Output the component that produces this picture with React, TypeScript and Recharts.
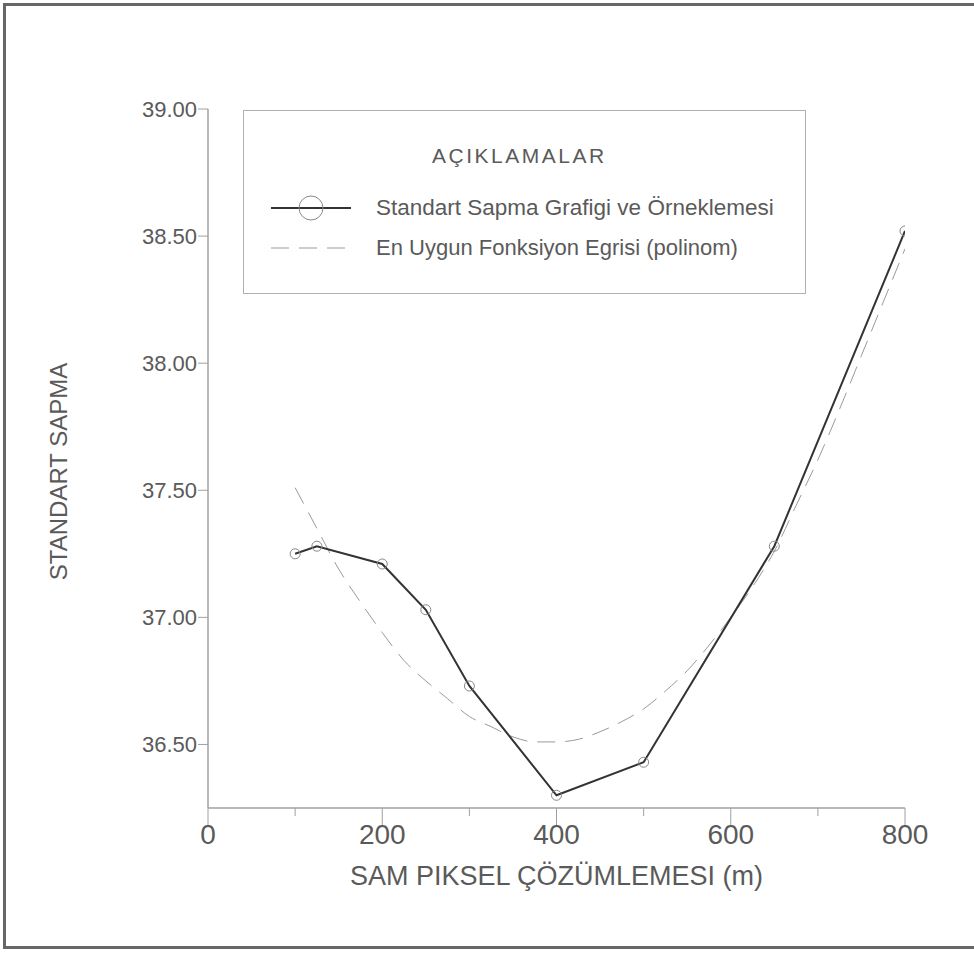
import { LineChart, Line, XAxis, YAxis, Legend, Label } from 'recharts'

// örnekleme noktaları (piksel çözümlemesi, standart sapma)
const sampleRes = [100, 125, 200, 250, 300, 400, 500, 650, 800]
const sampleStd = [37.25, 37.28, 37.21, 37.03, 36.73, 36.3, 36.43, 37.28, 38.52]

// polinom eğrisinden okunan değerler
const fitRes = [100, 125, 150, 175, 200, 225, 250, 275, 300, 325, 350, 375, 400, 425, 450, 475, 500, 525, 550, 575, 600, 625, 650, 675, 700, 725, 750, 775, 800]
const fitStd = [37.51, 37.35, 37.19, 37.06, 36.94, 36.83, 36.75, 36.68, 36.61, 36.57, 36.53, 36.51, 36.51, 36.52, 36.55, 36.59, 36.64, 36.71, 36.79, 36.89, 37.0, 37.12, 37.26, 37.44, 37.62, 37.82, 38.03, 38.24, 38.45]

const xTicks = [0, 100, 200, 300, 400, 500, 600, 700, 800]
const yTicks = [36.5, 37, 37.5, 38, 38.5, 39]

const sampleData = sampleRes.map((x, i) => ({ x, y: sampleStd[i] }))
const fitData = fitRes.map((x, i) => ({ x, y: fitStd[i] }))

const narrow = "'Liberation Sans Narrow', 'Liberation Sans', Arial, sans-serif"
const sans = "'Liberation Sans', Arial, sans-serif"
const textGray = '#5a5a5a'
const axisGray = '#a0a0a0'

function XTick(props: any) {
  const { x, y, payload } = props
  const major = payload.value % 200 === 0
  return (
    <g>
      <line x1={x} x2={x} y1={y} y2={y + (major ? 18 : 8)} stroke={axisGray} strokeWidth={1} />
      {major && (
        <text x={x} y={y + 36} textAnchor="middle" fontSize={28} fontFamily={narrow} fill={textGray}>
          {payload.value}
        </text>
      )}
    </g>
  )
}

function YTitle(props: any) {
  const { viewBox } = props
  const cx = viewBox.x + 50
  const cy = viewBox.y + viewBox.height / 2 + 13
  return (
    <text
      x={cx}
      y={cy}
      transform={`rotate(-90 ${cx} ${cy})`}
      textAnchor="middle"
      dominantBaseline="central"
      fontSize={24}
      fontFamily={narrow}
      fill={textGray}
    >
      STANDART SAPMA
    </text>
  )
}

function LegendBox() {
  return (
    <div
      style={{
        width: 561,
        height: 182,
        border: '1px solid #b0b0b0',
        background: '#fff',
        fontFamily: sans,
        color: textGray,
        position: 'relative',
      }}
    >
      <div style={{ position: 'absolute', left: 188, top: 33, fontSize: 21, letterSpacing: 2.5 }}>
        AÇIKLAMALAR
      </div>
      <div style={{ position: 'absolute', left: 27, top: 82, display: 'flex', alignItems: 'center' }}>
        <svg width={80} height={30}>
          <line x1={0} x2={80} y1={15} y2={15} stroke="#333" strokeWidth={2} />
          <circle cx={40} cy={15} r={12} fill="none" stroke="#888" strokeWidth={1} />
        </svg>
        <span style={{ marginLeft: 25, fontSize: 22.5 }}>Standart Sapma Grafigi ve Örneklemesi</span>
      </div>
      <div style={{ position: 'absolute', left: 27, top: 122, display: 'flex', alignItems: 'center' }}>
        <svg width={80} height={30}>
          <line x1={0} x2={80} y1={15} y2={15} stroke="#999" strokeWidth={1} strokeDasharray="18 10" />
        </svg>
        <span style={{ marginLeft: 25, fontSize: 22 }}>En Uygun Fonksiyon Egrisi (polinom)</span>
      </div>
    </div>
  )
}

export default function App() {
  return (
    <div style={{ position: 'absolute', left: 0, top: 0, width: 974, height: 959, overflow: 'hidden', background: '#fff' }}>
      <div
        style={{
          position: 'absolute',
          left: 3,
          top: 3,
          width: 971,
          height: 946,
          borderLeft: '3px solid #666',
          borderTop: '3px solid #666',
          borderBottom: '3px solid #666',
          boxSizing: 'border-box',
        }}
      />
      <div style={{ position: 'absolute', left: 0, top: 0 }}>
        <LineChart width={974} height={959} margin={{ top: 109, right: 69, bottom: 0, left: 8 }}>
          <XAxis
            type="number"
            dataKey="x"
            domain={[0, 800]}
            ticks={xTicks}
            interval={0}
            height={151}
            tickSize={0}
            tickMargin={0}
            tickLine={false}
            tick={<XTick />}
            axisLine={{ stroke: axisGray, strokeWidth: 1.5 }}
            allowDataOverflow
          >
            <Label
              value="SAM PIKSEL ÇÖZÜMLEMESI (m)"
              position="insideTop"
              offset={58}
              style={{ fontSize: 27, fontFamily: narrow, fill: textGray }}
            />
          </XAxis>
          <YAxis
            type="number"
            dataKey="y"
            domain={[36.25, 39]}
            ticks={yTicks}
            interval={0}
            width={200}
            tickSize={10}
            tickMargin={1}
            tickFormatter={(v: number) => v.toFixed(2)}
            tick={{ fontSize: 22, fontFamily: sans, fill: textGray }}
            tickLine={{ stroke: axisGray }}
            axisLine={{ stroke: axisGray, strokeWidth: 1.5 }}
            allowDataOverflow
          >
            <Label content={<YTitle />} />
          </YAxis>
          <Legend
            verticalAlign="middle"
            layout="horizontal"
            content={<LegendBox />}
            wrapperStyle={{ position: 'absolute', left: 243, top: 110, width: 563, height: 184 }}
          />
          <Line
            data={fitData}
            dataKey="y"
            type="monotone"
            stroke="#9a9a9a"
            strokeWidth={1}
            strokeDasharray="18 10"
            dot={false}
            activeDot={false}
            isAnimationActive={false}
          />
          <Line
            data={sampleData}
            dataKey="y"
            type="linear"
            stroke="#333"
            strokeWidth={2}
            dot={{ r: 5, fill: 'none', stroke: '#888', strokeWidth: 1 }}
            activeDot={false}
            isAnimationActive={false}
          />
        </LineChart>
      </div>
    </div>
  )
}
